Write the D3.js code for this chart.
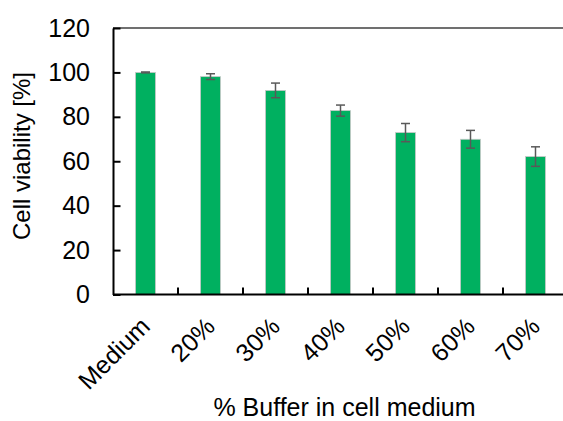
<!DOCTYPE html>
<html><head><meta charset="utf-8">
<script src="https://cdn.jsdelivr.net/npm/d3@7"></script>
<style>body{margin:0;background:#fff}svg{display:block}text{font-family:"Liberation Sans",Arial,sans-serif;fill:#000}</style>
</head><body>
<svg id="c" width="563" height="421"></svg>
<script>
const categories = ["Medium","20%","30%","40%","50%","60%","70%"];
const values = [100, 98.1, 91.9, 82.8, 72.9, 69.9, 62.1];
const errors = [0.2, 1.3, 3.3, 2.5, 4.1, 4.0, 4.4];
const yTicks = [0,20,40,60,80,100,120];
const xTitle = "% Buffer in cell medium";
const yTitle = "Cell viability [%]";

const svg = d3.select("#c");
const m = {left:113, top:28};
const W = 455, H = 266.5;
const g = svg.append("g").attr("transform",`translate(${m.left},${m.top})`);
const x = d3.scaleBand().domain(categories).range([0,W]).paddingInner(0.6923).paddingOuter(0.3462);
const y = d3.scaleLinear().domain([0,120]).range([H,0]);

// top border
g.append("line").attr("x1",0).attr("x2",W).attr("y1",0).attr("y2",0).attr("stroke","#404040").attr("stroke-width",1.6);

// bars
g.selectAll("rect.bar").data(categories).join("rect").attr("class","bar")
  .attr("x",d=>x(d)).attr("width",x.bandwidth())
  .attr("y",(d,i)=>y(values[i])).attr("height",(d,i)=>H-y(values[i]))
  .attr("fill","#00B060").attr("stroke","#c8c8c8").attr("stroke-width",0.8);

// error bars
const eb = g.selectAll("g.err").data(categories).join("g").attr("class","err")
  .attr("stroke","#595959").attr("stroke-width",1.5);
eb.append("line").attr("x1",d=>x(d)+x.bandwidth()/2).attr("x2",d=>x(d)+x.bandwidth()/2)
  .attr("y1",(d,i)=>y(values[i]+errors[i])).attr("y2",(d,i)=>y(values[i]-errors[i]));
[1,-1].forEach(s=>{
  eb.append("line").attr("x1",d=>x(d)+x.bandwidth()/2-4.5).attr("x2",d=>x(d)+x.bandwidth()/2+4.5)
    .attr("y1",(d,i)=>y(values[i]+s*errors[i])).attr("y2",(d,i)=>y(values[i]+s*errors[i]));
});

// y axis
const ya = g.append("g").call(d3.axisLeft(y).tickValues(yTicks).tickSize(-7.5).tickPadding(23).tickSizeOuter(0));
ya.select(".domain").attr("stroke","#000").attr("stroke-width",2);
ya.selectAll(".tick line").attr("stroke","#000").attr("stroke-width",2);
ya.selectAll(".tick text").attr("font-size",25).attr("font-family","Liberation Sans, Arial, sans-serif").attr("fill","#000");

// x axis
const step = x.step();
const boundaries = categories.map((d,i)=>x(d)+x.bandwidth()/2+step/2);
const xa = g.append("g").attr("transform",`translate(0,${H})`);
xa.append("line").attr("x1",0).attr("x2",W).attr("stroke","#000").attr("stroke-width",2);
xa.selectAll("line.tk").data(boundaries).join("line").attr("class","tk")
  .attr("x1",d=>d).attr("x2",d=>d).attr("y1",0).attr("y2",-7).attr("stroke","#000").attr("stroke-width",2);
xa.selectAll("text").data(categories).join("text")
  .attr("transform",d=>`translate(${x(d)+x.bandwidth()/2+6},${33.5}) rotate(-45)`)
  .attr("text-anchor","end").attr("font-size",25).text(d=>d);

// titles
svg.append("text").attr("x",344.5).attr("y",415.5).attr("text-anchor","middle").attr("font-size",25).text(xTitle);
svg.append("text").attr("transform","translate(29.5,156) rotate(-90)").attr("text-anchor","middle").attr("font-size",24).text(yTitle);
</script>
</body></html>
